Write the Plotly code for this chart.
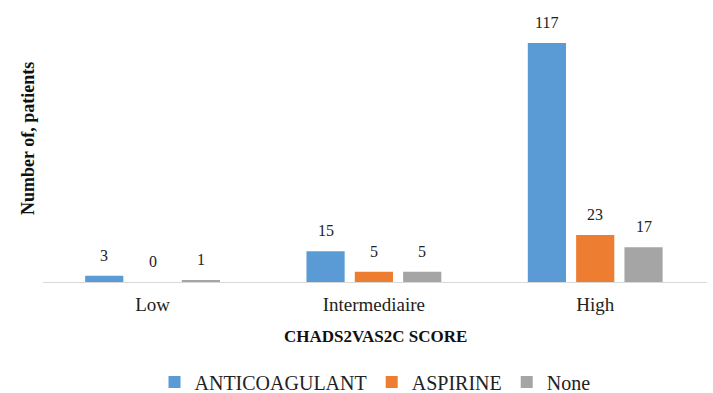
import plotly.graph_objects as go

categories = ["Low", "Intermediaire", "High"]
series_names = ["ANTICOAGULANT", "ASPIRINE", "None"]
anticoagulant = [3, 15, 117]
aspirine = [0, 5, 23]
none_vals = [1, 5, 17]
colors = ["#5B9BD5", "#ED7D31", "#A5A5A5"]

series = [anticoagulant, aspirine, none_vals]
xpos = list(range(len(categories)))

BARGAP = 0.345
GROUPGAP = 0.21
FONT = "Liberation Serif"

fig = go.Figure()
for name, vals, col in zip(series_names, series, colors):
    fig.add_trace(go.Bar(x=xpos, y=vals, name=name, marker=dict(color=col, line=dict(width=0))))

slot = (1 - BARGAP) / len(series)
annotations = []
for i, vals in enumerate(series):
    off = (i - (len(series) - 1) / 2) * slot
    for xi, v in zip(xpos, vals):
        annotations.append(dict(x=xi + off, y=v, xref="x", yref="y", text=str(v),
                                showarrow=False, yanchor="bottom", yshift=10,
                                font=dict(family=FONT, size=16, color="#222222")))

annotations.append(dict(x=0, xref="paper", xshift=-15, y=0.526, yref="paper",
                        text="<b>Number of, patients</b>", textangle=-90, showarrow=False,
                        xanchor="center", yanchor="middle",
                        font=dict(family=FONT, size=18, color="#111111")))
annotations.append(dict(x=0.5, xref="paper", y=-0.202, yref="paper",
                        text="<b>CHADS2VAS2C SCORE</b>", showarrow=False,
                        xanchor="center", yanchor="middle",
                        font=dict(family=FONT, size=17, color="#111111")))

fig.update_layout(
    width=713, height=393,
    margin=dict(l=43, r=6, t=10, b=111, autoexpand=False),
    barmode="group", bargap=BARGAP, bargroupgap=GROUPGAP,
    plot_bgcolor="white", paper_bgcolor="white",
    font=dict(family=FONT, color="#222222"),
    showlegend=True,
    legend=dict(orientation="h", x=0.5, xanchor="center", y=-0.368, yanchor="middle",
                font=dict(family=FONT, size=20, color="#222222"), itemwidth=30),
    annotations=annotations,
    xaxis=dict(tickvals=xpos, ticktext=categories, range=[-0.495, 2.505],
               showline=True, linecolor="#D9D9D9", linewidth=1, showgrid=False, zeroline=False,
               ticks="outside", ticklen=5, tickcolor="rgba(0,0,0,0)",
               tickfont=dict(family=FONT, size=19, color="#222222")),
    yaxis=dict(range=[0, 133.1], showticklabels=False, showgrid=False, zeroline=False,
               showline=False, ticks=""),
)

fig.write_html("out.html", config={"displayModeBar": False},
               post_script="document.body.style.margin='0';document.body.style.overflow='hidden';")
